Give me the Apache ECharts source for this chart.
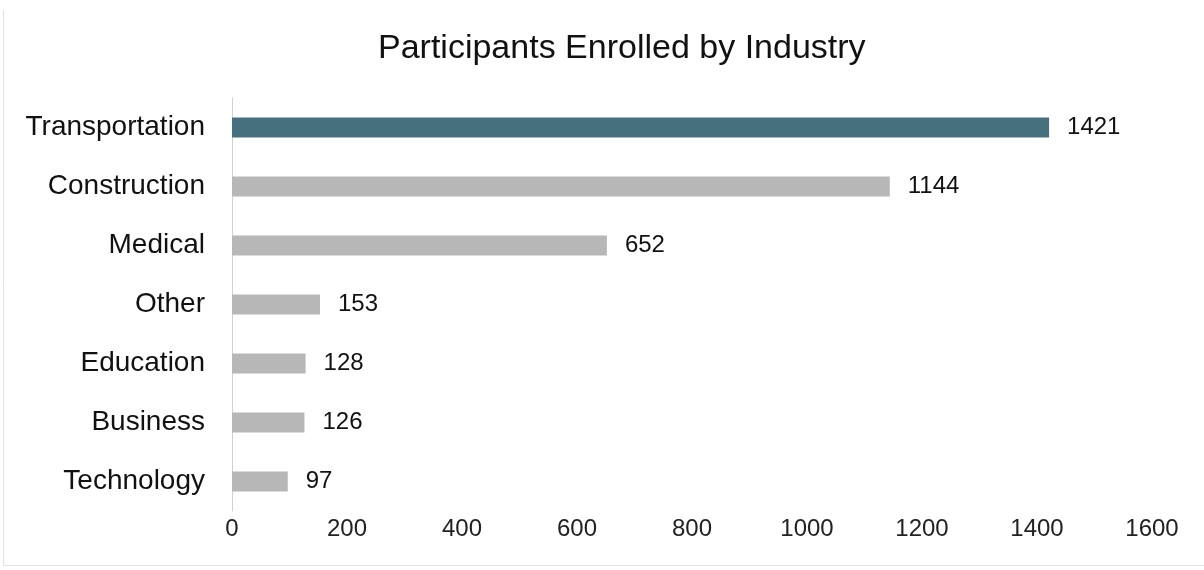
<!DOCTYPE html>
<html><head><meta charset="utf-8">
<script src="https://cdn.jsdelivr.net/npm/echarts@6/dist/echarts.min.js"></script>
<style>html,body{margin:0;padding:0;background:#fff}#c{width:1204px;height:570px}</style>
</head><body><div id="c"></div>
<script>
const categories = ["Transportation","Construction","Medical","Other","Education","Business","Technology"];
const values = [1421,1144,652,153,128,126,97];
const highlightColor = "#47707f";
const baseColor = "#b7b7b7";
const xTicks = [0,200,400,600,800,1000,1200,1400,1600];

const chart = echarts.init(document.getElementById('c'));
const font = "'Liberation Sans', Arial, sans-serif";
chart.setOption({
  animation:false,
  backgroundColor:'#fff',
  title:{text:"Participants Enrolled by Industry",left:373,top:27,
    textStyle:{fontFamily:font,fontSize:34,fontWeight:'normal',color:'#111'}},
  graphic:[
    {type:'line',shape:{x1:3.5,y1:10,x2:3.5,y2:565},style:{stroke:'#e2e2e2',lineWidth:1}},
    {type:'line',shape:{x1:3,y1:565.5,x2:1204,y2:565.5},style:{stroke:'#e2e2e2',lineWidth:1}}
  ],
  grid:{left:232,right:52,top:98,bottom:59,containLabel:false},
  xAxis:{type:'value',min:xTicks[0],max:xTicks[xTicks.length-1],interval:200,
    axisLine:{show:false},axisTick:{show:false},splitLine:{show:false},
    axisLabel:{fontFamily:font,fontSize:24,color:'#222',margin:6,formatter:v=>String(v)}},
  yAxis:{type:'category',data:categories.slice().reverse(),
    axisLine:{show:true,lineStyle:{color:'#d0d0d0',width:1}},axisTick:{show:false},
    axisLabel:{fontFamily:font,fontSize:28,color:'#111',margin:27}},
  series:[{type:'bar',data:values.slice().reverse().map((v,i,arr)=>({value:v,
      itemStyle:{color: categories[arr.length-1-i]==="Transportation"?highlightColor:baseColor}})),
    barWidth:20,
    label:{show:true,position:'right',distance:18,fontFamily:font,fontSize:24,color:'#111'}}]
});
</script></body></html>
